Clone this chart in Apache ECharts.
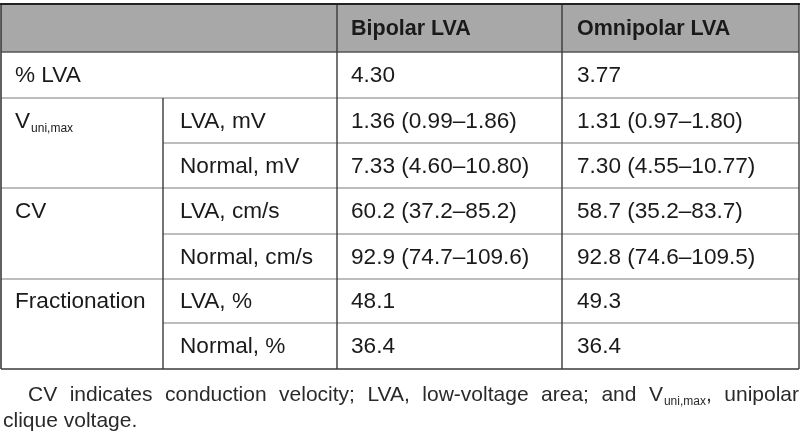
<!DOCTYPE html>
<html><head><meta charset="utf-8">
<script src="https://cdn.jsdelivr.net/npm/echarts@6/dist/echarts.min.js"></script>
<style>html,body{margin:0;padding:0;background:#fff}#c{width:800px;height:447px}</style>
</head><body><div id="c"></div>
<script>
// ---- table content ----
const headers = ['', 'Bipolar LVA', 'Omnipolar LVA'];
const groups = ['% LVA', 'V', 'CV', 'Fractionation'];
const groupSub = ['', 'uni,max', '', ''];
const subRows = [[], ['LVA, mV', 'Normal, mV'], ['LVA, cm/s', 'Normal, cm/s'], ['LVA, %', 'Normal, %']];
const bipolar = ['4.30', '1.36 (0.99–1.86)', '7.33 (4.60–10.80)', '60.2 (37.2–85.2)', '92.9 (74.7–109.6)', '48.1', '36.4'];
const omnipolar = ['3.77', '1.31 (0.97–1.80)', '7.30 (4.55–10.77)', '58.7 (35.2–83.7)', '92.8 (74.6–109.5)', '49.3', '36.4'];
const footLine1 = ['CV', 'indicates', 'conduction', 'velocity;', 'LVA,', 'low-voltage', 'area;', 'and', ['V', 'uni,max', ','], 'unipolar'];
const footLine2 = 'clique voltage.';

// ---- layout ----
const FONT = '"Liberation Sans", Arial, Helvetica, sans-serif';
const colEdges = [1, 163, 337, 562, 799];
const rowEdges = [4, 52, 98, 143, 188, 234, 279, 323, 369];
const padX = [14, 17, 14, 15];
const BODY_SIZE = 22.6, HEAD_SIZE = 21.5, SUB_SIZE = 12, FOOT_SIZE = 21;

const mctx = document.createElement('canvas').getContext('2d');
function tw(t, size, weight) { mctx.font = (weight || 'normal') + ' ' + size + 'px ' + FONT; return mctx.measureText(t).width; }

// ---- build cells ----
const cells = [];
cells.push({c0: 0, c1: 2, r0: 0, r1: 1, text: headers[0], head: true});
cells.push({c0: 2, c1: 3, r0: 0, r1: 1, text: headers[1], head: true});
cells.push({c0: 3, c1: 4, r0: 0, r1: 1, text: headers[2], head: true});
let vi = 0, row = 1;
groups.forEach((g, gi) => {
  const subs = subRows[gi];
  if (subs.length === 0) {
    cells.push({c0: 0, c1: 2, r0: row, r1: row + 1, text: g, sub: groupSub[gi]});
    cells.push({c0: 2, c1: 3, r0: row, r1: row + 1, text: bipolar[vi]});
    cells.push({c0: 3, c1: 4, r0: row, r1: row + 1, text: omnipolar[vi]});
    vi++; row++;
  } else {
    cells.push({c0: 0, c1: 1, r0: row, r1: row + subs.length, text: g, sub: groupSub[gi]});
    subs.forEach(s => {
      cells.push({c0: 1, c1: 2, r0: row, r1: row + 1, text: s});
      cells.push({c0: 2, c1: 3, r0: row, r1: row + 1, text: bipolar[vi]});
      cells.push({c0: 3, c1: 4, r0: row, r1: row + 1, text: omnipolar[vi]});
      vi++; row++;
    });
  }
});
const lastRow = rowEdges.length - 1;
const cellData = cells.map((c, i) => [colEdges[c.c0], colEdges[c.c1], rowEdges[c.r0], rowEdges[c.r1], i]);

function renderCell(params, api) {
  const c = cells[api.value(4)];
  const p0 = api.coord([api.value(0), api.value(2)]);
  const p1 = api.coord([api.value(1), api.value(3)]);
  const x0 = p0[0], y0 = p0[1], x1 = p1[0], y1 = p1[1];
  const firstBottom = api.coord([0, rowEdges[c.r0 + 1]])[1];
  const ty = (y0 + firstBottom) / 2 + 1;
  const ch = [];
  ch.push({type: 'rect', z2: 0, shape: {x: x0, y: y0, width: x1 - x0, height: y1 - y0},
    style: {fill: c.head ? '#a8a8a8' : '#ffffff'}});
  // bottom edge
  let bColor = '#7d7d7d', bW = 1.2;
  if (c.head) { bColor = '#555555'; bW = 1.5; }
  if (c.r1 === lastRow) { bColor = '#3a3a3a'; bW = 1.5; }
  ch.push({type: 'line', z2: 10, shape: {x1: x0, y1: y1, x2: x1, y2: y1}, style: {stroke: bColor, lineWidth: bW}});
  // right edge
  ch.push({type: 'line', z2: 11, shape: {x1: x1, y1: y0, x2: x1, y2: y1}, style: {stroke: '#3a3a3a', lineWidth: 1.4}});
  if (c.c0 === 0) ch.push({type: 'line', z2: 11, shape: {x1: x0, y1: y0, x2: x0, y2: y1}, style: {stroke: '#3a3a3a', lineWidth: 1.6}});
  if (c.r0 === 0) ch.push({type: 'line', z2: 12, shape: {x1: x0 - 1, y1: y0, x2: x1 + 1, y2: y0}, style: {stroke: '#222222', lineWidth: 2}});
  const tx = x0 + padX[c.c0];
  const size = c.head ? HEAD_SIZE : BODY_SIZE;
  const weight = c.head ? 'bold' : 'normal';
  ch.push({type: 'text', z2: 20, x: tx, y: ty, style: {text: c.text, fontSize: size, fontWeight: weight,
    fontFamily: FONT, fill: '#1a1a1a', align: 'left', verticalAlign: 'middle'}});
  if (c.sub) {
    ch.push({type: 'text', z2: 20, x: tx + tw(c.text, size, weight) + 1, y: ty + 7, style: {text: c.sub, fontSize: SUB_SIZE,
      fontFamily: FONT, fill: '#1a1a1a', align: 'left', verticalAlign: 'middle'}});
  }
  return {type: 'group', children: ch};
}

// ---- footnote (justified first line) ----
const footGraphics = [];
(function () {
  const left = 28, right = 799, y1 = 395, y2 = 421;
  const widths = footLine1.map(w => Array.isArray(w)
    ? tw(w[0], FOOT_SIZE) + tw(w[1], SUB_SIZE) + 1 + tw(w[2], FOOT_SIZE)
    : tw(w, FOOT_SIZE));
  const total = widths.reduce((a, b) => a + b, 0);
  const gap = (right - left - total) / (footLine1.length - 1);
  let x = left;
  const st = (t, s) => ({text: t, fontSize: s, fontFamily: FONT, fill: '#2a2a2a', align: 'left', verticalAlign: 'middle'});
  footLine1.forEach((w, i) => {
    if (Array.isArray(w)) {
      footGraphics.push({type: 'text', x: x, y: y1, style: st(w[0], FOOT_SIZE)});
      const xs = x + tw(w[0], FOOT_SIZE) + 1;
      footGraphics.push({type: 'text', x: xs, y: y1 + 7, style: st(w[1], SUB_SIZE)});
      footGraphics.push({type: 'text', x: xs + tw(w[1], SUB_SIZE), y: y1, style: st(w[2], FOOT_SIZE)});
    } else {
      footGraphics.push({type: 'text', x: x, y: y1, style: st(w, FOOT_SIZE)});
    }
    x += widths[i] + gap;
  });
  footGraphics.push({type: 'text', x: 3, y: y2, style: st(footLine2, FOOT_SIZE)});
})();

const chart = echarts.init(document.getElementById('c'), null, {renderer: 'canvas'});
chart.setOption({
  animation: false,
  backgroundColor: '#ffffff',
  grid: {left: 0, right: 0, top: 0, bottom: 0},
  xAxis: {type: 'value', min: 0, max: 800, show: false},
  yAxis: {type: 'value', min: 0, max: 447, inverse: true, show: false},
  series: [{
    type: 'custom',
    clip: false,
    renderItem: renderCell,
    data: cellData,
    encode: {x: [0, 1], y: [2, 3]},
    silent: true
  }],
  graphic: footGraphics
});
</script>
</body></html>
